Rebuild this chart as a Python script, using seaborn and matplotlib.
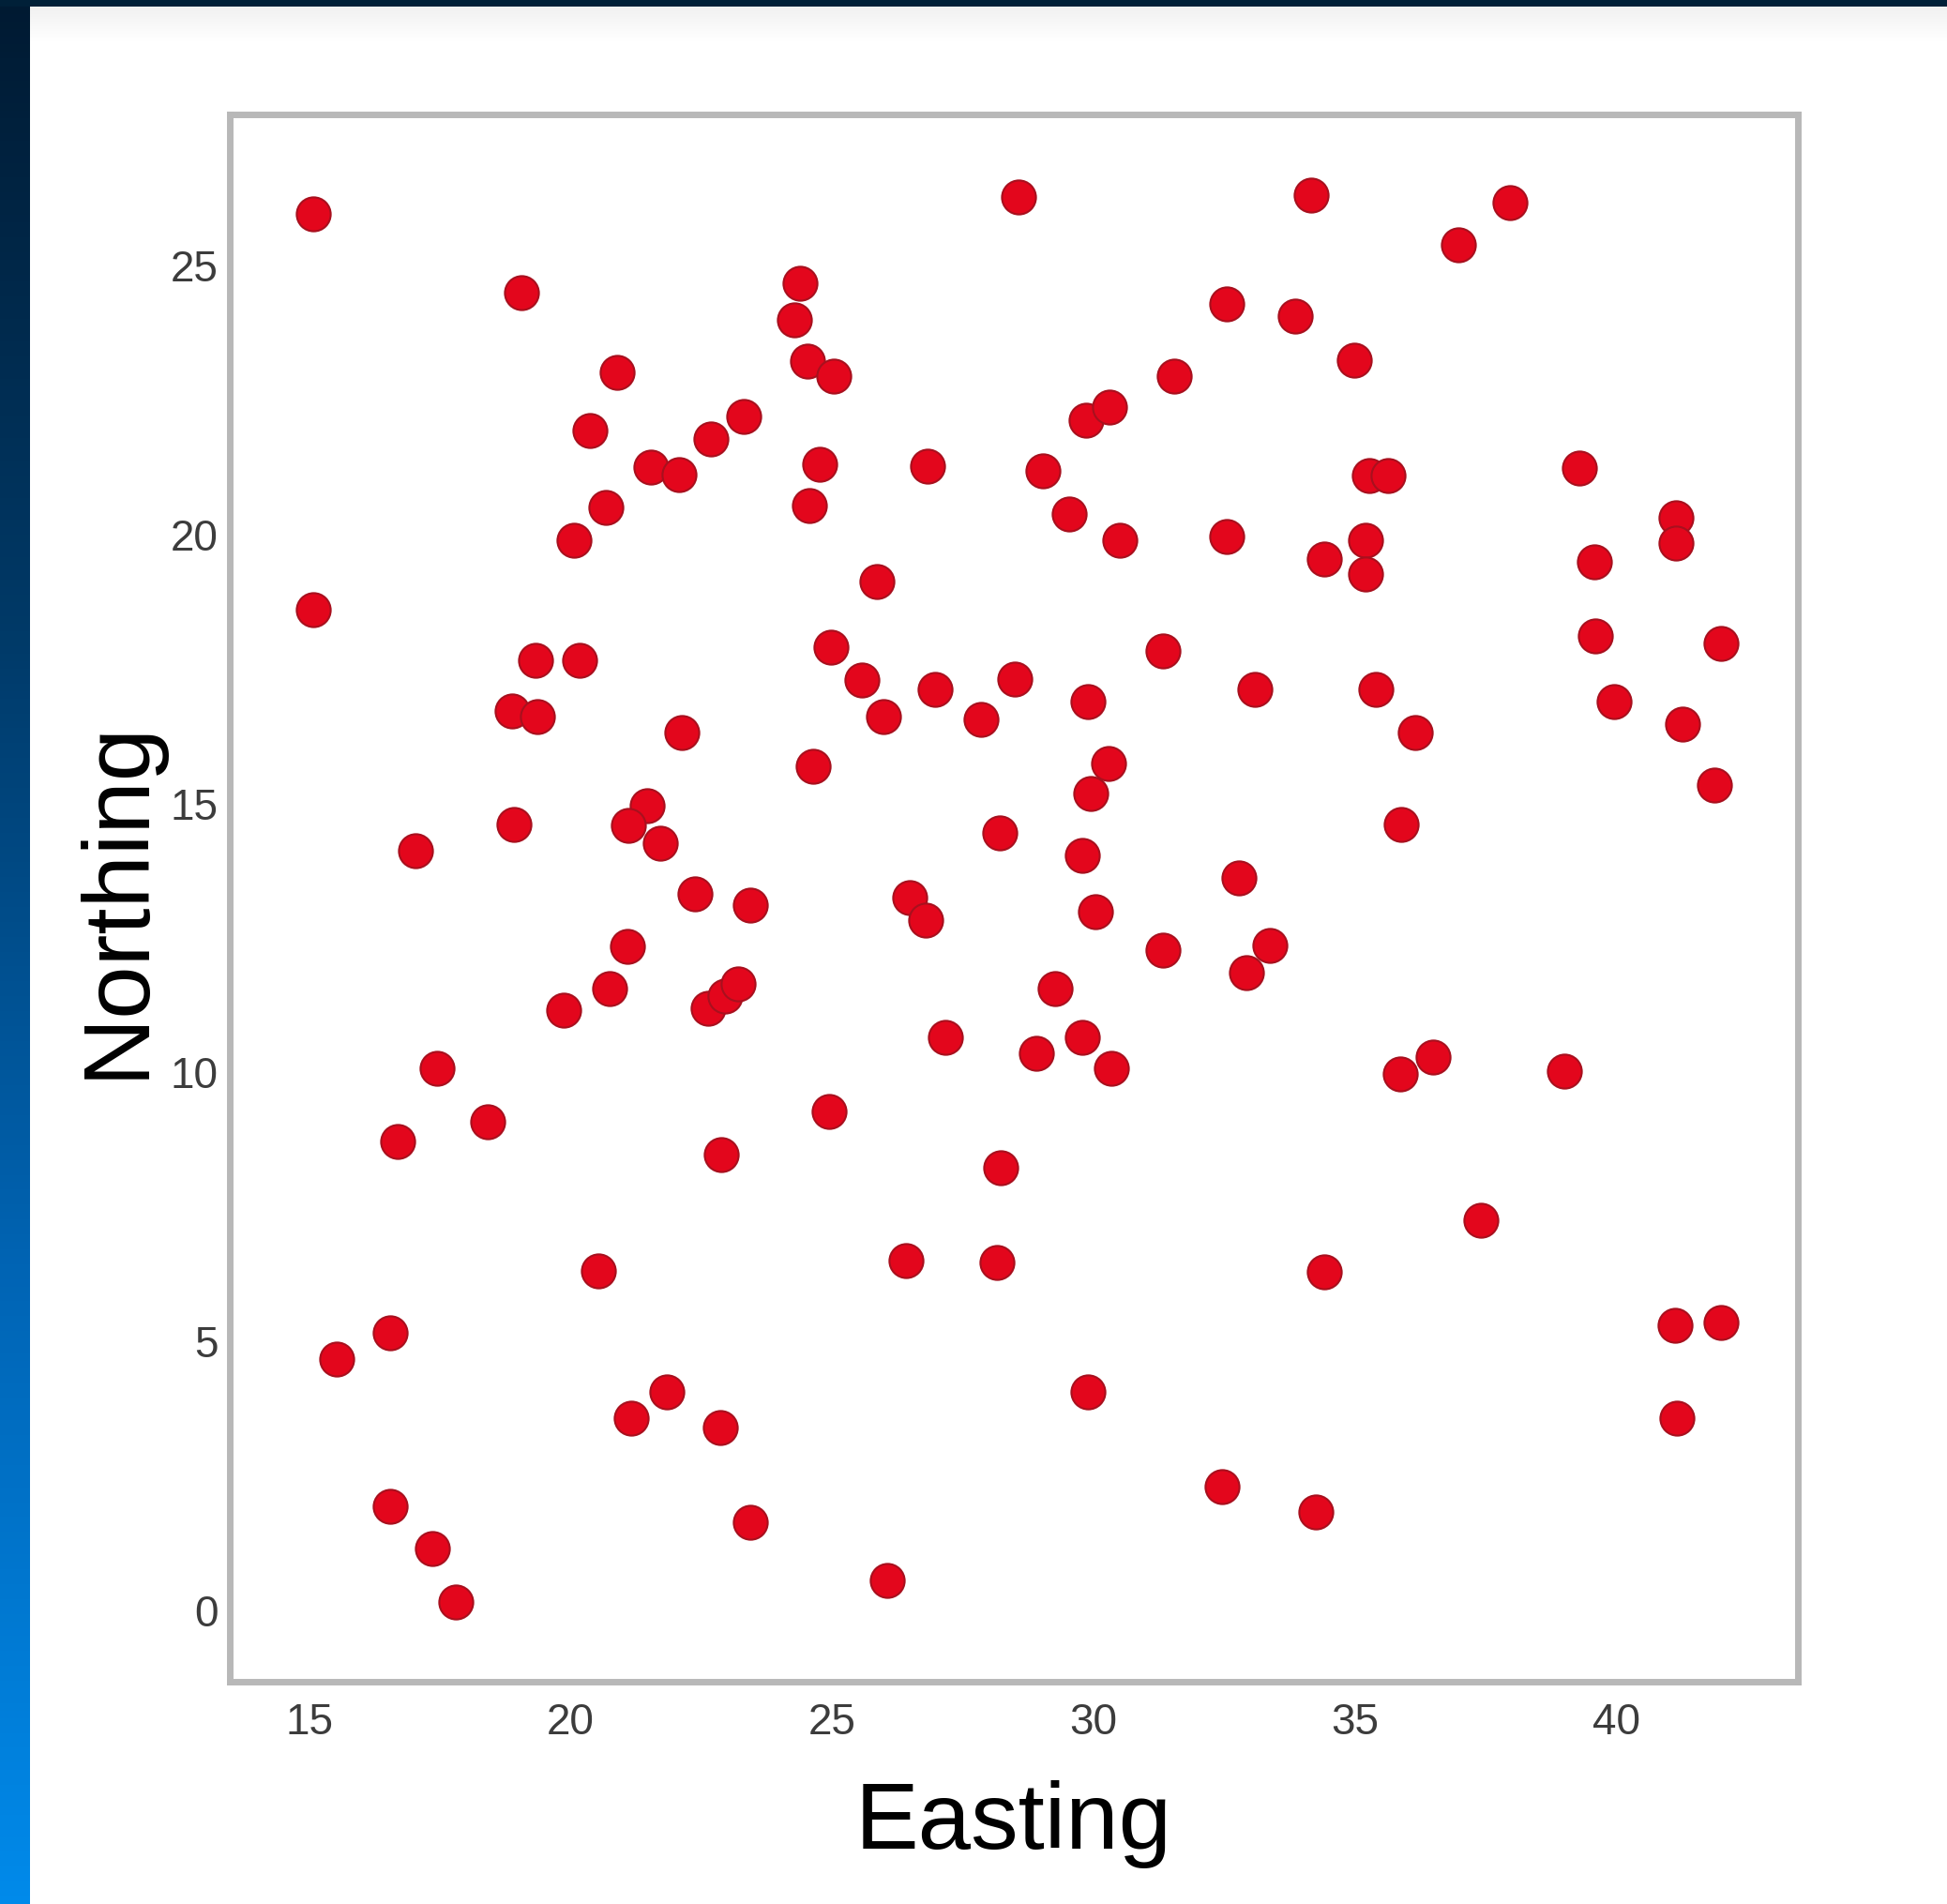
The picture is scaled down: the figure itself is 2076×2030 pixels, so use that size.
import numpy as np
import matplotlib
matplotlib.use('Agg')
import matplotlib.pyplot as plt
import seaborn as sns
from matplotlib.colors import LinearSegmentedColormap
from matplotlib.patches import Rectangle

easting = [15.07, 15.07, 15.52, 16.54, 16.54, 17.35, 17.80, 17.04, 17.45, 16.69,
           18.42, 19.06, 18.92, 18.87, 19.37, 19.32, 20.17, 20.06, 20.37, 20.67,
           20.89, 19.87, 20.75, 21.08, 20.53, 21.15, 21.84, 21.46, 21.10, 21.72,
           21.53, 22.07, 22.69, 23.31, 22.12, 22.38, 22.62, 22.95, 23.21, 23.43,
           22.88, 22.86, 23.43, 24.38, 24.28, 24.52, 25.04, 24.76, 24.57, 24.64,
           24.97, 24.95, 25.57, 25.85, 25.99, 26.06, 26.42, 26.49, 26.78, 26.82,
           26.97, 27.16, 27.84, 28.49, 28.56, 28.20, 28.22, 28.15, 28.91, 29.03,
           29.27, 29.53, 29.79, 29.79, 29.89, 29.85, 30.30, 29.94, 30.29, 30.03,
           30.34, 30.50, 29.89, 31.33, 31.55, 31.33, 32.55, 32.55, 32.78, 32.93,
           33.38, 33.09, 32.45, 33.85, 34.16, 34.42, 34.42, 34.25, 34.99, 35.20,
           35.20, 35.27, 35.63, 35.39, 35.89, 36.15, 35.87, 36.49, 36.98, 37.96,
           37.41, 39.00, 39.29, 39.57, 39.60, 39.96, 41.14, 41.14, 41.26, 41.88,
           42.00, 41.12, 42.00, 41.16]
northing = [25.95, 18.58, 4.66, 5.15, 1.92, 1.13, 0.14, 14.10, 10.06, 8.70,
            9.07, 24.47, 14.59, 16.71, 16.60, 17.65, 17.65, 19.88, 21.91, 20.48,
            22.99, 11.15, 11.54, 12.33, 6.30, 3.55, 4.04, 14.94, 14.57, 14.24,
            21.24, 21.10, 21.75, 22.18, 16.30, 13.30, 11.17, 11.40, 11.63, 13.09,
            8.45, 3.39, 1.62, 24.65, 23.98, 23.20, 22.92, 21.28, 20.52, 15.67,
            17.89, 9.26, 17.27, 19.11, 16.60, 0.55, 6.49, 13.23, 12.81, 21.26,
            17.11, 10.64, 16.55, 17.29, 26.25, 14.43, 8.22, 6.46, 10.34, 21.17,
            11.54, 20.36, 14.01, 10.64, 16.87, 22.10, 22.35, 15.17, 15.73, 12.97,
            10.06, 19.88, 4.04, 17.82, 22.92, 12.26, 24.26, 19.94, 13.60, 11.84,
            12.35, 17.11, 2.29, 24.05, 26.29, 19.53, 6.28, 1.82, 23.22, 19.88,
            19.25, 21.08, 21.08, 17.11, 14.59, 16.30, 9.95, 10.27, 25.37, 26.15,
            7.23, 10.00, 21.21, 19.48, 18.10, 16.87, 20.29, 19.83, 16.46, 15.33,
            17.96, 5.29, 5.33, 3.55]
x_ticks = [15, 20, 25, 30, 35, 40]
y_ticks = [0, 5, 10, 15, 20, 25]

sns.set_theme(style='white')
plt.rcParams['font.family'] = ['Liberation Sans', 'DejaVu Sans']

W, H = 2076, 2031
fig = plt.figure(figsize=(W / 100, H / 100), dpi=100)
fig.patch.set_facecolor('white')

# left blue gradient strip
sax = fig.add_axes([0, 0, 32 / W, 1])
cmap = LinearSegmentedColormap.from_list('strip', ['#008aea', '#0064b4', '#003a68', '#001a32'])
sax.imshow(np.linspace(0, 1, 512).reshape(-1, 1), aspect='auto', cmap=cmap,
           extent=[0, 1, 0, 1], origin='lower')
sax.axis('off')

# subtle gray fade under top bar
gax = fig.add_axes([32 / W, 1 - 45 / H, 1 - 32 / W, 37 / H])
gcmap = LinearSegmentedColormap.from_list('fade', ['#ffffff', '#f1f1f1'])
gax.imshow(np.linspace(0, 1, 256).reshape(-1, 1), aspect='auto', cmap=gcmap,
           extent=[0, 1, 0, 1], origin='lower')
gax.axis('off')

# top dark bar
fig.add_artist(Rectangle((0, 1 - 8 / H), 1, 8 / H, transform=fig.transFigure,
                         facecolor='#002038', edgecolor='none', zorder=5))

ax = fig.add_axes([245 / W, 1 - 1794 / H, (1917 - 245) / W, (1794 - 123) / H])
ax.set_facecolor('white')
sns.scatterplot(x=easting, y=northing, ax=ax, s=680, color='#e3061c',
                edgecolor='#a8101e', linewidth=1.5, zorder=3)
ax.set_xlim(13.48, 43.47)
ax.set_ylim(-1.34, 27.79)
ax.set_xticks(x_ticks)
ax.set_yticks(y_ticks)
ax.tick_params(length=0, labelsize=33, labelcolor='#3c3c3c')
ax.tick_params(axis='x', pad=15)
ax.tick_params(axis='y', pad=9)
for s in ax.spines.values():
    s.set_color('#b8b8b8')
    s.set_linewidth(5)
ax.set_xlabel('Easting', fontsize=73, color='black')
ax.set_ylabel('Northing', fontsize=73, color='black')
ax.xaxis.set_label_coords(0.5, -0.062)
ax.yaxis.set_label_coords(-0.043, 0.5)

fig.savefig('out.png', dpi=100)
